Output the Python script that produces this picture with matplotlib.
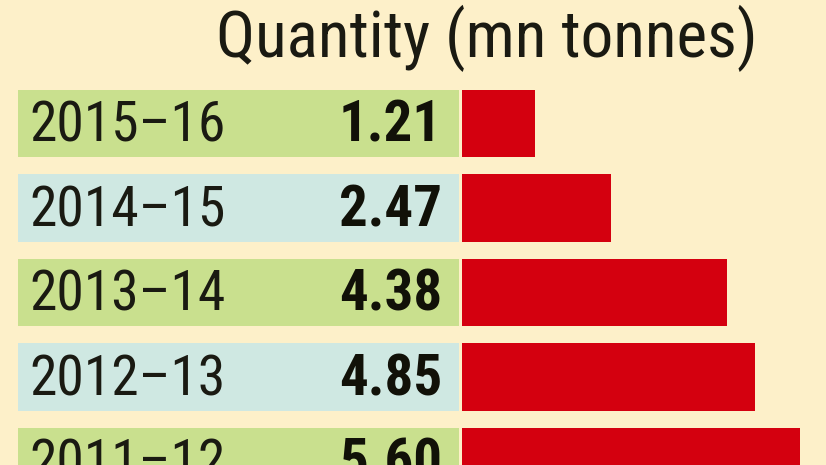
import matplotlib.pyplot as plt
from matplotlib import font_manager

# Data
years = ['2015–16', '2014–15', '2013–14', '2012–13', '2011–12']
quantity = [1.21, 2.47, 4.38, 4.85, 5.60]
title = 'Quantity (mn tonnes)'

bg = '#fdf0c9'
row_colors = ['#c9e08e', '#cfe8e2', '#c9e08e', '#cfe8e2', '#c9e08e']
bar_color = '#d4000f'

names = {f.name for f in font_manager.fontManager.ttflist}
narrow = [f for f in ['Liberation Sans Narrow', 'Roboto Condensed', 'Open Sans Condensed',
                      'Liberation Sans'] if f in names]

fig = plt.figure(figsize=(8.26, 4.65), dpi=100, facecolor=bg)
ax = fig.add_axes([0, 0, 1, 1], facecolor=bg)

px = 60.4  # pixels per mn tonnes
ax.set_xlim(-462 / px, 364 / px)
pitch = 84.5
ax.set_ylim((465 - 123.5) / pitch, -123.5 / pitch)
ax.axis('off')

y = range(len(years))
# label panel
ax.barh(y, [441 / px] * len(years), left=-444 / px, height=0.80, color=row_colors)
ax.barh(y, quantity, left=0, height=0.80, color=bar_color)

for i, (yr, q) in enumerate(zip(years, quantity)):
    ax.text(-433 / px, i + 0.03, yr, ha='left', va='center', fontsize=40,
            family=narrow, color='#1a1a12')
    ax.text(-20 / px, i + 0.03, f'{q:.2f}', ha='right', va='center', fontsize=41,
            family=narrow, fontweight='bold', color='#111108')

fig.text(487 / 826, 1 - 38 / 465, title, ha='center', va='center', fontsize=47,
         family=narrow, color='#1a1a12')

fig.savefig('out.png', dpi=100, facecolor=bg)
